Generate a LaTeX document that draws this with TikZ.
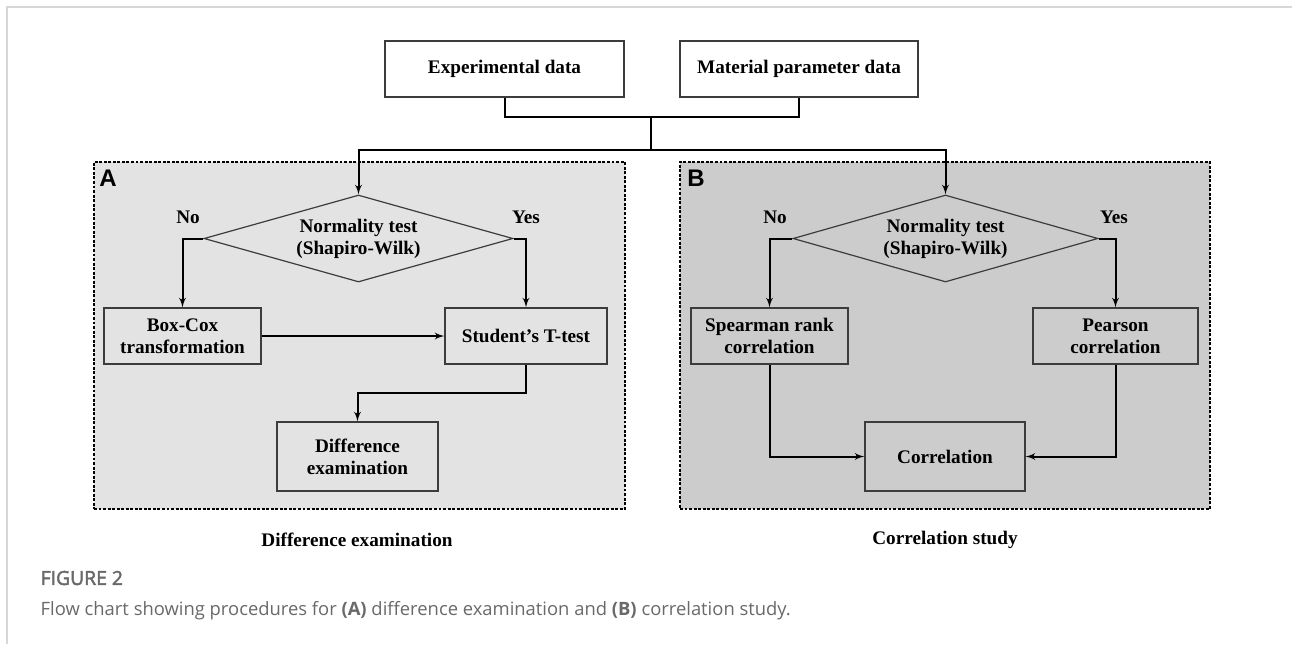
\documentclass[tikz,border=0pt]{standalone}
\usepackage{fontspec}
\setmainfont{Liberation Serif}
\newfontfamily\panelfont{Liberation Sans}
\newfontfamily\capfont{Open Sans}
\newfontfamily\capheadfont[FakeBold=2.5]{Open Sans}
\usepackage{tikz}
\usetikzlibrary{arrows,positioning,calc,shapes.geometric}
\definecolor{panelA}{RGB}{227,227,227}
\definecolor{panelB}{RGB}{204,204,204}
\definecolor{boxline}{RGB}{60,60,60}
\definecolor{capgray}{RGB}{105,105,105}
\definecolor{framegray}{RGB}{215,215,215}

\begin{document}
\begin{tikzpicture}[x=0.75pt,y=-0.75pt,>=latex',
    every node/.style={font=\bfseries\fontsize{14.4}{16.5}\selectfont},
    stepbox/.style={draw=boxline,line width=0.9pt,align=center,inner sep=2pt,minimum height=42pt},
    decision/.style={diamond,draw=boxline,line width=0.9pt,align=center,inner sep=0pt,aspect=3.55,minimum width=#1,minimum height=65.25pt},
    panel/.style={draw=black,line width=2.1pt,dash pattern=on 2.2pt off 1.2pt,minimum height=260.25pt,minimum width=#1},
    flow/.style={line width=1.5pt,->},
    link/.style={line width=1.5pt}]
  \useasboundingbox (0,0) rectangle (1292,644);
  \draw[framegray,line width=1.2pt] (7,644) -- (7,7) -- (1292,7);

  \node[panel=398.25pt,fill=panelA] (pA) at (359.5,335.5) {};
  \node[panel=397.5pt,fill=panelB] (pB) at (945,335.5) {};
  \node[font=\panelfont\bfseries\fontsize{18}{18}\selectfont] (lA) at (108,178) {A};
  \node[font=\panelfont\bfseries\fontsize{18}{18}\selectfont] (lB) at (696,178) {B};

  \node[stepbox,fill=white,minimum width=179.25pt] (exp) at (504.5,69) {Experimental data};
  \node[stepbox,fill=white,minimum width=178.5pt] (mat) at (799,69) {Material parameter data};
  \coordinate (join) at (651,117);
  \coordinate (split) at (651,150);

  \node[decision=231.75pt] (dA) at (358.5,238.5) {Normality test\\(Shapiro-Wilk)};
  \node[stepbox,minimum width=117.75pt] (boxcox) at (182.5,336) {Box-Cox\\transformation};
  \node[stepbox,minimum width=121.5pt] (ttest) at (526,336) {Student's T-test};
  \node[stepbox,minimum width=120.75pt,minimum height=51.75pt] (diff) at (357.5,456.5) {Difference\\examination};
  \node (noA) at (188,217) {No};
  \node (yesA) at (526,217) {Yes};

  \node[decision=228.75pt] (dB) at (945.5,238.5) {Normality test\\(Shapiro-Wilk)};
  \node[stepbox,minimum width=117.75pt] (spear) at (769.5,336) {Spearman rank\\correlation};
  \node[stepbox,minimum width=123.75pt] (pear) at (1115.5,336) {Pearson\\correlation};
  \node[stepbox,minimum width=120pt,minimum height=51.75pt] (corr) at (945,456.5) {Correlation};
  \node (noB) at (775,217) {No};
  \node (yesB) at (1114,217) {Yes};

  \node (titA) at (357,540) {Difference examination};
  \node (titB) at (945,540) {Correlation study};

  \draw[link] (exp.south) |- (join) -| (mat.south);
  \draw[link] (join) -- (split);
  \draw[flow] (split) -| (dA.north);
  \draw[flow] (split) -| (dB.north);

  \draw[flow] (dA.west) -| (boxcox.north);
  \draw[flow] (dA.east) -| (ttest.north);
  \draw[flow] (boxcox.east) -- (ttest.west);
  \draw[flow] (ttest.south) |- ($(ttest.south)!.5!(diff.north)$) -| (diff.north);

  \draw[flow] (dB.west) -| (spear.north);
  \draw[flow] (dB.east) -| (pear.north);
  \draw[flow] (spear.south) |- (corr.west);
  \draw[flow] (pear.south) |- (corr.east);

  \node[anchor=west,text=capgray,font=\capheadfont\fontsize{14.5}{16}\selectfont] (fig) at (36,578) {FIGURE 2};
  \node[anchor=west,text=capgray,font=\capfont\fontsize{13.8}{16}\selectfont] (cap) at (36,611) {Flow chart showing procedures for \textbf{(A)} difference examination and \textbf{(B)} correlation study.};
\end{tikzpicture}
\end{document}
